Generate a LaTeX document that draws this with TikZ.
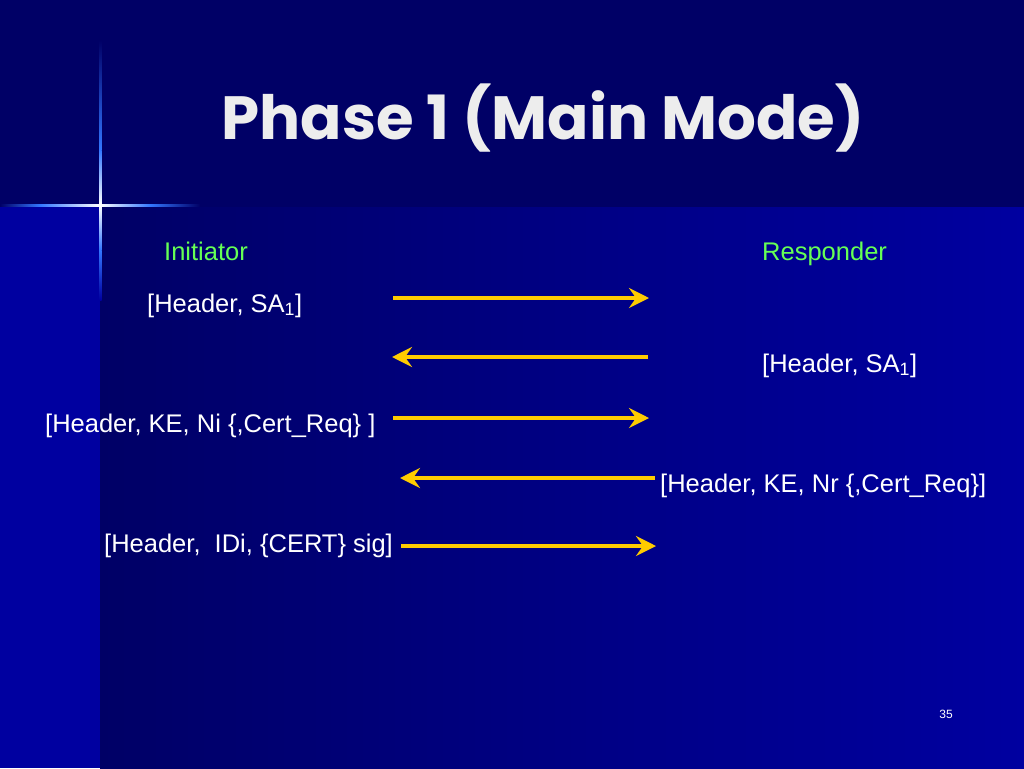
\documentclass[tikz,border=0pt]{standalone}
\usepackage{fontspec}
\setmainfont{Liberation Sans}
\newfontfamily\titlefont{Poppins}
\usetikzlibrary{arrows.meta}
\definecolor{navy}{HTML}{000066}
\definecolor{bodyblue}{HTML}{0000A0}
\definecolor{gold}{HTML}{FFCC00}
\definecolor{labelgreen}{HTML}{66FF55}
\definecolor{glow}{HTML}{3377FF}
\tikzset{
  msg/.style={anchor=base west, text=white, inner sep=0pt, font=\fontsize{25.5}{28}\selectfont},
  role/.style={anchor=base west, text=labelgreen, inner sep=0pt, font=\fontsize{25.5}{28}\selectfont},
  flow/.style={draw=gold, line width=3.5pt, -{Stealth[length=20pt,width=20pt,inset=7pt]}},
}
\begin{document}
\begin{tikzpicture}[x=1pt,y=-1pt]
\useasboundingbox (0,0) rectangle (1024,768);
% background
\fill[navy] (0,0) rectangle (1024,207);
\fill[bodyblue] (0,207) rectangle (100,768);
\shade[left color=navy, right color=bodyblue] (100,207) rectangle (1024,768);
% cross glow
\shade[top color=navy, bottom color=glow] (99,40) rectangle (101.5,150);
\shade[top color=glow, bottom color=white] (99,150) rectangle (101.5,205);
\shade[top color=white, bottom color=glow] (99,205) rectangle (101.5,250);
\shade[top color=glow, bottom color=bodyblue] (99,250) rectangle (101.5,300);
\shade[left color=navy, right color=glow] (0,204) rectangle (40,206.5);
\shade[left color=glow, right color=white] (40,204) rectangle (100,206.5);
\shade[left color=white, right color=glow] (100,204) rectangle (150,206.5);
\shade[left color=glow, right color=navy] (150,204) rectangle (200,206.5);
% title
\node[text=white!93!black, font=\titlefont\bfseries\fontsize{61}{66}\selectfont, inner sep=0pt] (title) at (543,118) {Phase 1 (Main Mode)};
% roles
\node[role] (init) at (164,260) {Initiator};
\node[role] (resp) at (762,260) {Responder};
% messages
\node[msg] (m1) at (147,312) {[Header, SA\textsubscript{1}]};
\node[msg] (m2) at (762,372) {[Header, SA\textsubscript{1}]};
\node[msg] (m3) at (45,432) {[Header, KE, Ni \{,Cert\_Req\} ]};
\node[msg] (m4) at (660,492) {[Header, KE, Nr \{,Cert\_Req\}]};
\node[msg] (m5) at (104,552) {[Header,\ \ IDi, \{CERT\} sig]};
% arrow end points
\coordinate (a1s) at (393,298); \coordinate (a1e) at (649,298);
\coordinate (a2s) at (648,357); \coordinate (a2e) at (392,357);
\coordinate (a3s) at (393,418); \coordinate (a3e) at (649,418);
\coordinate (a4s) at (655,478); \coordinate (a4e) at (400,478);
\coordinate (a5s) at (401,546); \coordinate (a5e) at (656,546);
\draw[flow] (a1s) -- (a1e);
\draw[flow] (a2s) -- (a2e);
\draw[flow] (a3s) -- (a3e);
\draw[flow] (a4s) -- (a4e);
\draw[flow] (a5s) -- (a5e);
% page number
\node[text=white, font=\fontsize{12}{14}\selectfont, inner sep=0pt] (pg) at (946,714) {35};
\end{tikzpicture}
\end{document}
